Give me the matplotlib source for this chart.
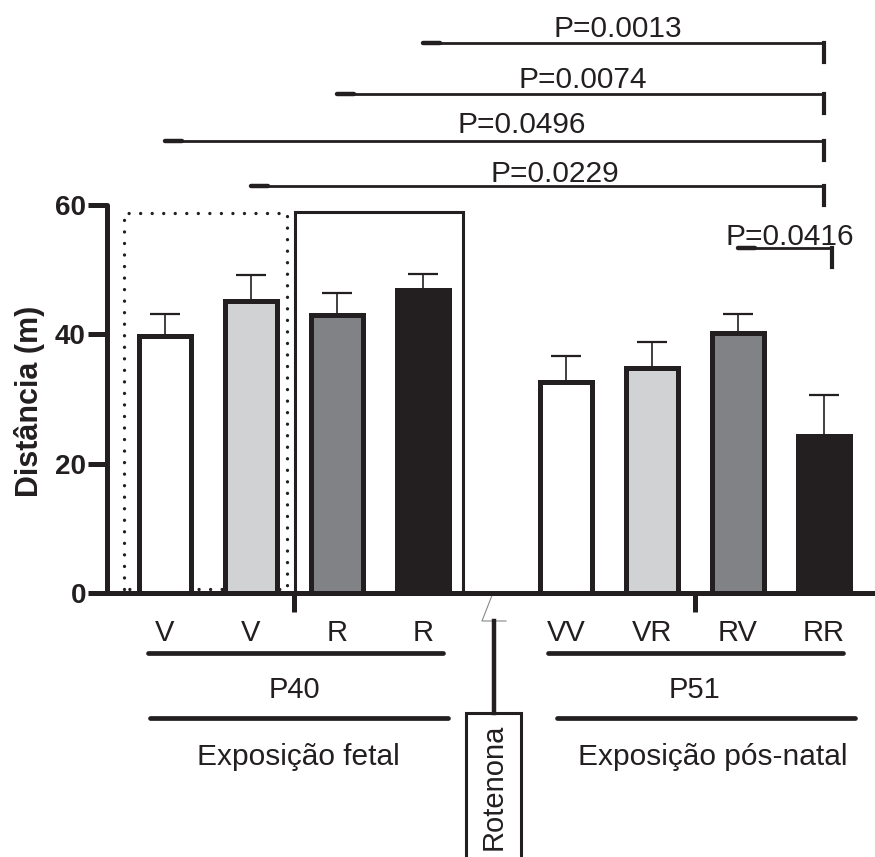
import matplotlib.pyplot as plt
from matplotlib.patches import Rectangle
import numpy as np

plt.rcParams['font.family'] = ['Liberation Sans', 'DejaVu Sans']
INK = '#231f20'

# data
labels = ['V', 'V', 'R', 'R', 'VV', 'VR', 'RV', 'RR']
means = [39.7, 45.2, 43.0, 46.9, 32.6, 34.8, 40.2, 24.3]
sem = [3.5, 4.0, 3.4, 2.4, 4.1, 4.0, 3.0, 6.3]
fills = ['white', '#d1d2d4', '#808285', INK] * 2

# significance brackets: (left bar, right bar, height, text)
pairs = [(3, 7), (2, 7), (0, 7), (1, 7), (6, 7)]
pvals = ['P=0.0013', 'P=0.0074', 'P=0.0496', 'P=0.0229', 'P=0.0416']
bracket_y = [85.1, 77.2, 69.9, 62.9, 53.4]

gap = 1.663
x = np.r_[np.arange(4), np.arange(4) + 4 + gap - 1]

fig = plt.figure(figsize=(8.75, 8.57), dpi=100)
ax = fig.add_axes([107 / 875, 264 / 857, 768 / 875, 90 * 6.465 / 857])
ax.set_xlim(-0.674, 8.256)
ax.set_ylim(0, 90)

ax.bar(x, means, width=0.6, color=fills, edgecolor=INK, linewidth=3.6, zorder=3)
ax.errorbar(x, means, yerr=[np.zeros(len(sem)), sem], fmt='none', ecolor=INK,
            elinewidth=1.2, capsize=10.5, capthick=1.6, zorder=2)

# axes style
for s in ['top', 'right']:
    ax.spines[s].set_visible(False)
ax.spines['left'].set_bounds(0, 60)
for s in ['left', 'bottom']:
    ax.spines[s].set_linewidth(3.6)
    ax.spines[s].set_color(INK)
    ax.spines[s].set_capstyle('round')

ax.set_yticks([0, 20, 40, 60])
ax.tick_params(axis='y', length=13.7, width=3.6, color=INK, pad=1.5,
               labelsize=20, labelcolor=INK)
for t in ax.get_yticklabels():
    t.set_fontweight('bold')

ax.set_xticks(x, labels)
ax.tick_params(axis='x', length=0, pad=19, labelsize=21, labelcolor=INK)
ax.set_xticks([1.5, 3 + gap + 1.5], minor=True)
ax.tick_params(axis='x', which='minor', length=13.7, width=3.6, color=INK)

fig.text(30 / 875, 1 - 401 / 857, 'Distância (m)', rotation=90, ha='center',
         va='center', fontsize=22, fontweight='bold', color=INK)

# boxes around fetal groups
ax.plot([-0.477, -0.477, 1.419, 1.419, -0.477], [0.6, 58.8, 58.8, 0.6, 0.6],
        color=INK, lw=2.4, linestyle=(0, (0.01, 3.45)), dash_capstyle='round',
        zorder=1)
ax.add_patch(Rectangle((1.512, 0), 3.465 - 1.512, 58.9, fill=False,
                       edgecolor=INK, lw=2.2, zorder=1))

# significance brackets
text_x = [5.267, 4.86, 4.15, 4.535, 7.267]
text_y = [86.0, 78.1, 71.2, 63.6, 53.8]
for (i, j), y, p, tx, ty in zip(pairs, bracket_y, pvals, text_x, text_y):
    xr = x[j] + (0.09 if i == 6 else 0)
    ax.plot([x[i], xr], [y, y], color=INK, lw=2.0, clip_on=False,
            solid_capstyle='round')
    ax.plot([x[i], x[i] + 0.2], [y, y], color=INK, lw=3.2, clip_on=False,
            solid_capstyle='round')
    ax.plot([xr, xr], [y, y - 2.9], color=INK, lw=3.0, clip_on=False)
    ax.text(tx, ty, p, ha='center', va='baseline', fontsize=21.5, color=INK)

# group annotations below axis
ax.plot([-0.198, 3.233], [-9.3, -9.3], color=INK, lw=3.4, clip_on=False,
        solid_capstyle='round')
ax.plot([4.453, 7.884], [-9.3, -9.3], color=INK, lw=3.4, clip_on=False,
        solid_capstyle='round')
ax.plot([-0.174, 3.291], [-19.3, -19.3], color=INK, lw=3.4, clip_on=False,
        solid_capstyle='round')
ax.plot([4.558, 8.023], [-19.3, -19.3], color=INK, lw=3.4, clip_on=False,
        solid_capstyle='round')
ax.text(1.5, -16.3, 'P40', ha='center', va='baseline', fontsize=21,
        color=INK, clip_on=False)
ax.text(3 + gap + 1.5, -16.3, 'P51', ha='center', va='baseline', fontsize=21,
        color=INK, clip_on=False)
ax.text(1.55, -26.6, 'Exposição fetal', ha='center', va='baseline',
        fontsize=21.5, color=INK, clip_on=False)
ax.text(6.37, -26.6, 'Exposição pós-natal', ha='center', va='baseline',
        fontsize=21.5, color=INK, clip_on=False)

# axis break mark and Rotenona label
ax.plot([3.80, 3.686, 3.965], [-0.46, -4.33, -4.33], color='#888888',
        lw=0.8, clip_on=False)
ax.plot([3.826, 3.826], [-4.33, -18.56], color=INK, lw=3.2, clip_on=False)
ax.add_patch(Rectangle((3.5, -45), 0.64, 45 - 18.56, fill=False,
                       edgecolor=INK, lw=2.2, clip_on=False))
ax.text(3.82, -30.0, 'Rotenona', rotation=90, ha='center', va='center',
        fontsize=21, color=INK, clip_on=False)

fig.savefig('out.png', dpi=100)
